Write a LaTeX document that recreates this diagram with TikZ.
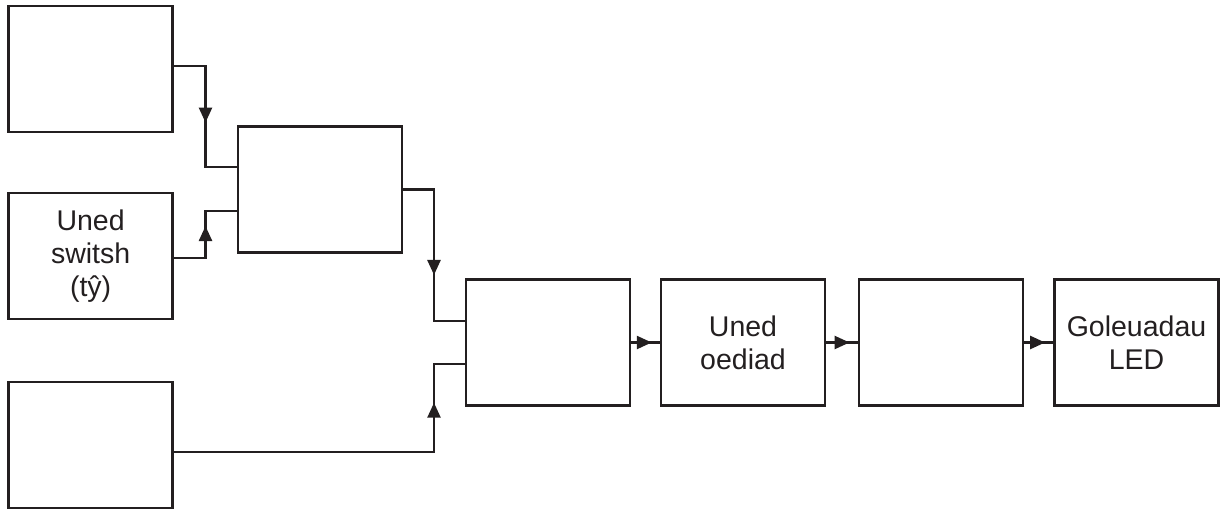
\documentclass[tikz,border=0pt]{standalone}
\usepackage{fontspec}
\setmainfont{Liberation Sans}
\usetikzlibrary{arrows.meta,decorations.markings}
\definecolor{ink}{RGB}{35,31,32}
\begin{document}
\begin{tikzpicture}[x=1pt,y=-1pt,
  block/.style={draw=ink, line width=2.6pt, minimum width=164pt, minimum height=126pt,
    inner sep=0pt, align=center, text=ink, font=\fontsize{28.5}{33}\selectfont},
  wire/.style={draw=ink, line width=2.5pt},
  midarrow/.style={postaction=decorate, decoration={markings,
    mark=at position #1 with {\arrow[ink]{Triangle[length=15pt,width=13pt]}}}}]
\useasboundingbox (0,0) rectangle (1220,511);

% blocks
\node[block] (A) at (90.6,69) {};
\node[block] (B) at (90.6,256) {Uned\\switsh\\(tŷ)};
\node[block] (C) at (90.6,445) {};
\node[block] (D) at (320,189.5) {};
\node[block] (E) at (548,342.5) {};
\node[block] (F) at (743,342.5) {Uned\\oediad};
\node[block] (G) at (941,342.5) {};
\node[block] (H) at (1136.5,342.5) {Goleuadau\\LED};

% ports and wiring columns
\coordinate (Aout) at ([yshift=3pt]A.east);
\coordinate (Bout) at ([yshift=-2pt]B.east);
\coordinate (Cout) at ([yshift=-7pt]C.east);
\coordinate (Din1) at ([yshift=22.5pt]D.west);
\coordinate (Din2) at ([yshift=-21.5pt]D.west);
\coordinate (Ein1) at ([yshift=21.5pt]E.west);
\coordinate (Ein2) at ([yshift=-21.5pt]E.west);
\coordinate (col1) at (205.5,0);
\coordinate (col2) at (434,0);

% inputs to the first combining block
\draw[wire] (Aout) -| (col1 |- Din1) -- (Din1);
\draw[wire,midarrow=.56] (Aout -| col1) -- (col1 |- Din1);
\draw[wire] (Bout) -| (col1 |- Din2) -- (Din2);
\draw[wire,midarrow=.68] (Bout -| col1) -- (col1 |- Din2);

% inputs to the second combining block
\draw[wire] (D.east) -| (col2 |- Ein1) -- (Ein1);
\draw[wire,midarrow=.65] (D.east -| col2) -- (col2 |- Ein1);
\draw[wire] (Cout) -| (col2 |- Ein2) -- (Ein2);
\draw[wire,midarrow=.56] (Cout -| col2) -- (col2 |- Ein2);

% output chain
\draw[wire,midarrow=.72] (E.east) -- (F.west);
\draw[wire,midarrow=.74] (F.east) -- (G.west);
\draw[wire,midarrow=.72] (G.east) -- (H.west);
\end{tikzpicture}
\end{document}
